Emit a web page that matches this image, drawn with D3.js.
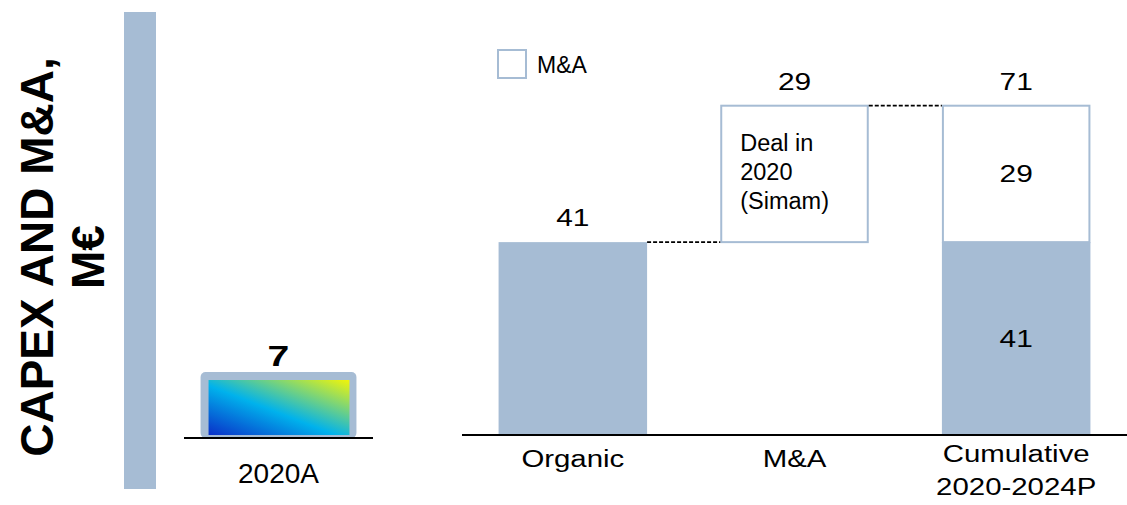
<!DOCTYPE html>
<html>
<head>
<meta charset="utf-8">
<script src="https://cdn.jsdelivr.net/npm/d3@7"></script>
<style>
  body { margin: 0; background: #fff; }
  svg { display: block; font-family: "Liberation Sans", Arial, sans-serif; }
</style>
</head>
<body>
<div id="chart"></div>
<script>
// data
const titleLines = ["CAPEX AND M&A,", "M€"];
const smallCategories = ["2020A"];
const smallValues = [7];
const categories = ["Organic", "M&A", "Cumulative\n2020-2024P"];
const organicValues = [41, 0, 41];
const maValues = [0, 29, 29];
const bottomOffsets = [0, 41, 0];
const topLabels = ["41", "29", "71"];
const dealNote = ["Deal in", "2020", "(Simam)"];
const legendLabel = "M&A";

const W = 1127, H = 505;
const blue = "#a6bcd4";

const svg = d3.select("#chart").append("svg")
    .attr("width", W).attr("height", H);

// horizontally stretched text helper (reference text is wide)
function wideText(g, cx, cy, str, size, sx, bold) {
    return g.append("text")
        .attr("transform", `translate(${cx},${cy}) scale(${sx},1)`)
        .attr("text-anchor", "middle")
        .attr("font-size", size)
        .attr("font-weight", bold ? "bold" : null)
        .text(str);
}

// gradient for the small bar
const defs = svg.append("defs");
const grad = defs.append("linearGradient")
    .attr("id", "grad")
    .attr("x1", "0%").attr("y1", "100%")
    .attr("x2", "100%").attr("y2", "0%");
grad.append("stop").attr("offset", "0%").attr("stop-color", "#0a2fc8");
grad.append("stop").attr("offset", "45%").attr("stop-color", "#00b2ec");
grad.append("stop").attr("offset", "100%").attr("stop-color", "#f2f508");

// title side
svg.append("rect")
    .attr("x", 124).attr("y", 12).attr("width", 32).attr("height", 477)
    .attr("fill", blue);

const title = svg.append("text")
    .attr("transform", "translate(0,257) rotate(-90)")
    .attr("text-anchor", "middle")
    .attr("font-weight", "bold")
    .attr("font-size", 46)
    .attr("fill", "#000");
titleLines.forEach((t, i) => {
    title.append("tspan").attr("x", 0).attr("y", i === 0 ? 53 : 104).text(t);
});

// small chart (2020A)
const smallY = d3.scaleLinear().domain([0, 7]).range([438, 372]);
const smallX = d3.scaleBand().domain(smallCategories).range([184, 373]).padding(0.096);

const small = svg.append("g");
smallCategories.forEach((c, i) => {
    const x = smallX(c), w = smallX.bandwidth();
    const top = smallY(smallValues[i]);
    small.append("rect")
        .attr("x", x).attr("y", top)
        .attr("width", w).attr("height", smallY(0) - top)
        .attr("rx", 5)
        .attr("fill", blue);
    small.append("rect")
        .attr("x", x + 8).attr("y", top + 8)
        .attr("width", w - 15).attr("height", smallY(0) - top - 11)
        .attr("fill", "url(#grad)");
    wideText(small, x + w / 2, top - 6, smallValues[i], 29, 1.35, true);
    small.append("text")
        .attr("x", x + w / 2).attr("y", 483)
        .attr("text-anchor", "middle")
        .attr("font-size", 28)
        .text(c);
});
small.append("line")
    .attr("x1", 184).attr("x2", 373).attr("y1", 438).attr("y2", 438)
    .attr("stroke", "#000").attr("stroke-width", 2);

// main waterfall
const x = d3.scaleBand().domain(categories).range([462, 1127]).paddingInner(0.33).paddingOuter(0.165);
const y = d3.scaleLinear().domain([0, 71]).range([435, 101]);
const bw = x.bandwidth();

const main = svg.append("g");

// organic (filled) parts
main.selectAll("rect.org")
    .data(categories.filter((c, i) => organicValues[i] > 0))
    .join("rect")
    .attr("class", "org")
    .attr("x", d => x(d))
    .attr("y", d => y(organicValues[categories.indexOf(d)]))
    .attr("width", bw)
    .attr("height", d => y(0) - y(organicValues[categories.indexOf(d)]))
    .attr("fill", blue);

// M&A (outlined) parts
main.selectAll("rect.ma")
    .data(categories.filter((c, i) => maValues[i] > 0))
    .join("rect")
    .attr("class", "ma")
    .attr("x", d => x(d) + 1)
    .attr("y", d => { const i = categories.indexOf(d); return y(bottomOffsets[i] + organicValues[i] + maValues[i]); })
    .attr("width", bw - 2)
    .attr("height", d => { const i = categories.indexOf(d); return y(0) - y(maValues[i]); })
    .attr("fill", "#fff")
    .attr("stroke", blue).attr("stroke-width", 2);

// connectors
const conn = [
    {from: 0, to: 1, v: organicValues[0]},
    {from: 1, to: 2, v: bottomOffsets[1] + maValues[1]}
];
main.selectAll("line.conn")
    .data(conn)
    .join("line")
    .attr("x1", d => x(categories[d.from]) + bw)
    .attr("x2", d => x(categories[d.to]))
    .attr("y1", d => y(d.v)).attr("y2", d => y(d.v))
    .attr("stroke", "#000").attr("stroke-width", 1.7)
    .attr("stroke-dasharray", "4,2");

// top labels
categories.forEach((c, i) => {
    const total = bottomOffsets[i] + organicValues[i] + maValues[i];
    wideText(main, x(c) + bw / 2, y(total) - 16, topLabels[i], 23, 1.3);
});

// inner labels on cumulative
const cum = categories[2];
wideText(main, x(cum) + bw / 2, y(organicValues[2] + maValues[2] / 2) + 8, maValues[2], 23, 1.3);
wideText(main, x(cum) + bw / 2, y(organicValues[2] / 2) + 8, organicValues[2], 23, 1.3);

// deal note
const note = main.append("text")
    .attr("font-size", 23.5);
dealNote.forEach((t, i) => {
    note.append("tspan").attr("x", x(categories[1]) + 20).attr("y", 151 + i * 29).text(t);
});

// baseline
main.append("line")
    .attr("x1", 462).attr("x2", 1127).attr("y1", 435).attr("y2", 435)
    .attr("stroke", "#000").attr("stroke-width", 2);

// category labels
categories.forEach(c => {
    const lines = c.split("\n");
    lines.forEach((l, j) => {
        wideText(main, x(c) + bw / 2, (lines.length === 1 ? 467 : 462) + j * 33, l, 24.5, 1.2);
    });
});

// legend
svg.append("rect")
    .attr("x", 498).attr("y", 50).attr("width", 28).attr("height", 28)
    .attr("fill", "#fff").attr("stroke", blue).attr("stroke-width", 2);
svg.append("text")
    .attr("x", 537).attr("y", 73).attr("font-size", 23)
    .text(legendLabel);
</script>
</body>
</html>
